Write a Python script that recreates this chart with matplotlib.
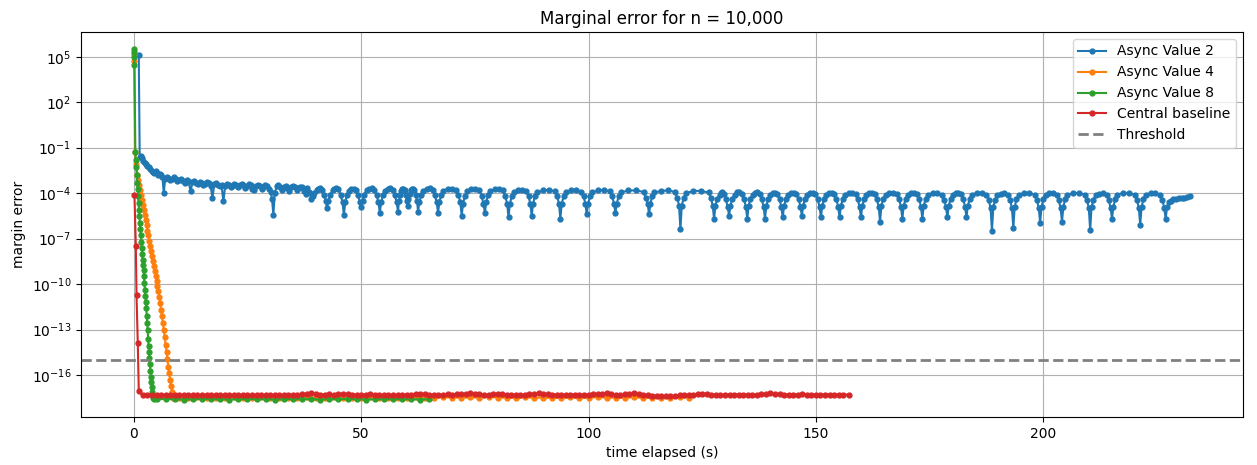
import matplotlib
matplotlib.use("Agg")
import matplotlib.pyplot as plt

# Async Value 2 (slow, oscillating around 1e-4)
t_async2 = [
    1.1, 1.3, 1.5, 1.8, 2.1, 2.4, 2.7, 3.0, 3.3, 3.6,
    3.9, 4.2, 4.5, 4.8, 5.1, 5.4, 5.7, 6.0, 6.3, 6.6,
    6.9, 7.2, 7.6, 8.0, 8.4, 8.8, 9.2, 9.6, 10.0, 10.4,
    10.8, 11.2, 11.6, 12.0, 12.5, 12.9, 13.3, 13.7, 14.1, 14.5,
    14.9, 15.3, 15.7, 16.1, 16.5, 16.9, 17.3, 17.7, 18.1, 18.5,
    18.9, 19.3, 19.7, 20.1, 20.5, 20.9, 21.3, 21.7, 22.1, 22.5,
    22.9, 23.3, 23.7, 24.1, 24.5, 24.9, 25.3, 25.7, 26.1, 26.5,
    26.9, 27.3, 27.7, 28.1, 28.5, 28.9, 29.3, 29.7, 30.1, 30.4,
    30.7, 31.0, 31.4, 31.8, 32.2, 32.6, 33.0, 33.4, 33.8, 34.2,
    34.6, 35.0, 35.4, 35.8, 36.2, 36.6, 37.0, 37.4, 37.8, 38.2,
    38.6,
    39.0, 39.3, 39.7, 40.2, 40.57, 40.93, 41.3, 41.8, 42.2,
    42.5, 42.8, 43.2, 43.7, 44.13, 44.57, 45.0, 45.5, 45.9,
    46.2, 46.5, 46.9, 47.4, 47.87, 48.33, 48.8, 49.3, 49.7,
    50.0, 50.3, 50.7, 51.2, 51.77, 52.33, 52.9, 53.4, 53.8,
    54.1, 54.4, 54.8, 55.3, 55.83, 56.37, 56.9, 57.4, 57.8,
    58.1, 58.3, 58.55, 58.8, 59.05, 59.3, 59.55, 59.8, 60.0,
    60.2, 60.4, 60.65, 60.9, 61.15, 61.4, 61.7, 62.0, 62.3,
    62.5, 62.8, 63.2, 63.7, 64.37, 65.03, 65.7, 66.2, 66.6,
    66.9, 67.2, 67.6, 68.1, 69.03, 69.97, 70.9, 71.4, 71.8,
    72.1, 72.4, 72.8, 73.3, 74.2, 75.1, 76.0, 76.5, 76.9,
    77.2, 77.5, 77.9, 78.4, 79.33, 80.27, 81.2, 81.7, 82.1,
    82.4, 82.7, 83.1, 83.6, 84.5, 85.4, 86.3, 86.8, 87.2,
    87.5, 87.8, 88.2, 88.7, 90.0, 91.3, 92.6, 93.1, 93.5,
    93.8, 94.1, 94.5, 95.0, 96.13, 97.27, 98.4, 98.9, 99.3,
    99.6, 99.9, 100.3, 100.8, 102.1, 103.4, 104.7, 105.2, 105.6,
    105.9, 106.2, 106.6, 107.1, 108.77, 110.43, 112.1, 112.6, 113.0,
    113.3, 113.6, 114.0, 114.5, 116.0, 117.5, 119.0, 119.5, 119.9,
    120.2, 120.5, 120.9, 121.4, 123.07, 124.73, 126.4, 126.9, 127.3,
    127.6, 127.9, 128.3, 128.8, 129.1, 129.4, 129.7, 130.2, 130.6,
    130.9, 131.2, 131.6, 132.1, 132.63, 133.17, 133.7, 134.2, 134.6,
    134.9, 135.2, 135.6, 136.1, 136.6, 137.1, 137.6, 138.1, 138.5,
    138.8, 139.1, 139.5, 140.0, 140.5, 141.0, 141.5, 142.0, 142.4,
    142.7, 143.0, 143.4, 143.9, 144.5, 145.1, 145.7, 146.2, 146.6,
    146.9, 147.2, 147.6, 148.1, 148.7, 149.3, 149.9, 150.4, 150.8,
    151.1, 151.4, 151.8, 152.3, 152.87, 153.43, 154.0, 154.5, 154.9,
    155.2, 155.5, 155.9, 156.4, 157.17, 157.93, 158.7, 159.2, 159.6,
    159.9, 160.2, 160.6, 161.1, 161.7, 162.3, 162.9, 163.4, 163.8,
    164.1, 164.4, 164.8, 165.3, 166.13, 166.97, 167.8, 168.3, 168.7,
    169.0, 169.3, 169.7, 170.2, 170.87, 171.53, 172.2, 172.7, 173.1,
    173.4, 173.7, 174.1, 174.6, 175.63, 176.67, 177.7, 178.2, 178.6,
    178.9, 179.2, 179.6, 180.1, 180.7, 181.3, 181.9, 182.4, 182.8,
    183.1, 183.4, 183.8, 184.3, 185.37, 186.43, 187.5, 188.0, 188.4,
    188.7, 189.0, 189.4, 189.9, 190.67, 191.43, 192.2, 192.7, 193.1,
    193.4, 193.7, 194.1, 194.6, 195.77, 196.93, 198.1, 198.6, 199.0,
    199.3, 199.6, 200.0, 200.5, 201.3, 202.1, 202.9, 203.4, 203.8,
    204.1, 204.4, 204.8, 205.3, 206.57, 207.83, 209.1, 209.6, 210.0,
    210.3, 210.6, 211.0, 211.5, 212.3, 213.1, 213.9, 214.4, 214.8,
    215.1, 215.4, 215.8, 216.3, 217.57, 218.83, 220.1, 220.6, 221.0,
    221.3, 221.6, 222.0, 222.5, 223.57, 224.63, 225.7, 226.2, 226.6,
    226.9, 227.2, 227.6, 228.1, 228.6, 229.2, 229.8, 230.4, 231.0, 231.6, 232.3,
]
err_async2 = [
    1.4e5, 2.5e-2, 3.0e-2, 2.0e-2, 1.4e-2, 1.0e-2, 8.0e-3, 6.0e-3, 5.5e-3, 4.2e-3,
    3.0e-3, 2.6e-3, 2.2e-3, 2.8e-3, 2.2e-3, 1.6e-3, 1.9e-3, 1.5e-3, 1.1e-3, 1.0e-4,
    9.0e-4, 1.2e-3, 1.0e-3, 7.0e-4, 8.5e-4, 1.1e-3, 9.0e-4, 6.5e-4, 7.5e-4, 8.0e-4,
    6.0e-4, 4.5e-4, 7.5e-4, 6.0e-4, 1.3e-4, 5.5e-4, 6.5e-4, 4.5e-4, 3.8e-4, 5.5e-4,
    5.0e-4, 3.5e-4, 4.2e-4, 5.5e-4, 4.5e-4, 3.0e-4, 4.7e-5, 3.8e-4, 4.5e-4, 3.2e-4,
    2.8e-4, 3.5e-4, 2.8e-5, 3.0e-4, 4.2e-4, 3.6e-4, 2.4e-4, 3.0e-4, 4.0e-4, 3.4e-4,
    2.4e-4, 3.2e-4, 4.2e-4, 3.5e-4, 2.2e-4, 2.8e-4, 3.8e-4, 3.2e-4, 2.0e-4, 1.5e-4,
    3.0e-4, 3.6e-4, 2.8e-4, 1.9e-4, 2.6e-4, 3.4e-4, 3.0e-4, 1.8e-4, 1.2e-4, 4.0e-5,
    3.6e-6, 1.0e-4, 2.8e-4, 3.2e-4, 2.4e-4, 1.6e-4, 2.6e-4, 3.0e-4, 2.2e-4, 1.4e-4,
    2.4e-4, 2.9e-4, 2.6e-4, 1.6e-4, 2.2e-4, 2.7e-4, 2.4e-4, 1.3e-4, 9.0e-5, 2.3e-4,
    1.2e-4,
    4e-5, 6e-5, 1.0e-4, 1.6e-4, 2.0e-4, 2.1e-4, 1.7e-4, 8e-5, 3e-5,
    1e-5, 3e-5, 8e-5, 1.5e-4, 2.0e-4, 2.2e-4, 1.8e-4, 7e-5, 2.5e-5,
    3.5e-6, 2.5e-5, 7e-5, 1.4e-4, 1.9e-4, 2.0e-4, 1.6e-4, 7e-5, 2.5e-5,
    1.2e-5, 3e-5, 8e-5, 1.5e-4, 2.0e-4, 2.1e-4, 1.7e-4, 7e-5, 2.5e-5,
    5e-6, 2.5e-5, 7e-5, 1.4e-4, 2.0e-4, 2.2e-4, 1.6e-4, 7e-5, 2.5e-5,
    6e-6, 3e-5, 8e-5, 1.4e-4, 1.8e-4, 1.9e-4, 1.5e-4, 8e-5, 3e-5,
    1.5e-5, 4e-5, 9e-5, 1.5e-4, 1.9e-4, 2.0e-4, 1.6e-4, 8e-5, 3e-5,
    6e-6, 2.5e-5, 7e-5, 1.4e-4, 1.9e-4, 2.1e-4, 1.7e-4, 7e-5, 2.5e-5,
    5e-6, 2.5e-5, 7e-5, 1.4e-4, 2.0e-4, 2.0e-4, 1.6e-4, 7e-5, 2.5e-5,
    3.2e-6, 2e-5, 6e-5, 1.3e-4, 1.9e-4, 2.0e-4, 1.6e-4, 6e-5, 2e-5,
    5e-6, 2.5e-5, 7e-5, 1.3e-4, 1.8e-4, 1.9e-4, 1.5e-4, 6e-5, 2e-5,
    2.5e-6, 2e-5, 6e-5, 1.1e-4, 1.5e-4, 1.6e-4, 1.3e-4, 6e-5, 2e-5,
    3.2e-6, 2e-5, 6e-5, 1.1e-4, 1.5e-4, 1.6e-4, 1.3e-4, 6e-5, 2e-5,
    2e-6, 2e-5, 6e-5, 1.1e-4, 1.5e-4, 1.5e-4, 1.2e-4, 6e-5, 2e-5,
    4e-6, 2e-5, 6e-5, 1.1e-4, 1.5e-4, 1.6e-4, 1.3e-4, 6e-5, 2e-5,
    5e-6, 2e-5, 6e-5, 1.1e-4, 1.5e-4, 1.5e-4, 1.2e-4, 5e-5, 2e-5,
    4e-6, 2e-5, 6e-5, 1.1e-4, 1.4e-4, 1.5e-4, 1.2e-4, 5e-5, 1.5e-5,
    4e-7, 1.5e-5, 5e-5, 1.0e-4, 1.4e-4, 1.4e-4, 1.1e-4, 5e-5, 1.5e-5,
    2e-6, 1.5e-5, 4e-5, 8e-5, 1.05e-4, 1.1e-4, 9e-5, 4e-5, 1.2e-5,
    3.2e-6, 1.5e-5, 4e-5, 8e-5, 1.1e-4, 1.1e-4, 9e-5, 4e-5, 1.2e-5,
    2e-6, 1.5e-5, 4e-5, 8e-5, 1.05e-4, 1.1e-4, 9e-5, 4e-5, 1.2e-5,
    2e-6, 1.5e-5, 4e-5, 8e-5, 1.0e-4, 1.05e-4, 8.5e-5, 4e-5, 1.2e-5,
    2.5e-6, 1.5e-5, 4e-5, 8e-5, 1.0e-4, 1.05e-4, 8.5e-5, 4e-5, 1.2e-5,
    3.2e-6, 1.5e-5, 4e-5, 8e-5, 1.0e-4, 1.05e-4, 8.5e-5, 4e-5, 1.2e-5,
    2.5e-6, 1.5e-5, 4e-5, 8e-5, 1.0e-4, 1.05e-4, 8.5e-5, 4e-5, 1.2e-5,
    2.5e-6, 1.5e-5, 4e-5, 8e-5, 1.0e-4, 1.05e-4, 8.5e-5, 4e-5, 1.2e-5,
    2.5e-6, 1.5e-5, 4e-5, 8e-5, 1.0e-4, 1.05e-4, 8.5e-5, 4e-5, 1.2e-5,
    1.3e-6, 1.5e-5, 4e-5, 8e-5, 1.0e-4, 1.05e-4, 8.5e-5, 4e-5, 1.2e-5,
    2e-6, 1.5e-5, 4e-5, 8e-5, 1.0e-4, 1.05e-4, 8.5e-5, 4e-5, 1.2e-5,
    2e-6, 1.5e-5, 4e-5, 8e-5, 1.0e-4, 1.0e-4, 8e-5, 3.5e-5, 1.2e-5,
    2.5e-6, 1.5e-5, 4e-5, 8e-5, 1.0e-4, 1.05e-4, 8.5e-5, 4e-5, 1.2e-5,
    2.5e-6, 1.5e-5, 4e-5, 8e-5, 1.0e-4, 1.0e-4, 8e-5, 3.5e-5, 1e-5,
    3.2e-7, 1.2e-5, 3.5e-5, 7e-5, 9e-5, 9.5e-5, 8e-5, 3.5e-5, 1e-5,
    5e-7, 1.2e-5, 4e-5, 8e-5, 1.0e-4, 1.0e-4, 8e-5, 3.5e-5, 1e-5,
    1.1e-6, 1.2e-5, 4e-5, 8e-5, 1.0e-4, 1.0e-4, 8e-5, 3.5e-5, 1e-5,
    1.3e-6, 1.2e-5, 4e-5, 8e-5, 1.0e-4, 1.0e-4, 8e-5, 3.5e-5, 1e-5,
    3.5e-7, 1.2e-5, 3.5e-5, 7e-5, 9e-5, 9.5e-5, 8e-5, 3.5e-5, 1e-5,
    2e-6, 1.2e-5, 4e-5, 8e-5, 1.0e-4, 1.0e-4, 8e-5, 3.5e-5, 1e-5,
    8e-7, 1.2e-5, 4e-5, 8e-5, 1.0e-4, 1.0e-4, 8e-5, 3.5e-5, 1e-5,
    2e-6, 1.2e-5, 2.5e-5, 3.2e-5, 4e-5, 4.2e-5, 4.5e-5, 5e-5, 5e-5, 5.5e-5, 6e-5,
]

# Async Value 4
t_async4 = [
    0.0, 0.1, 0.25, 0.5,
    0.8, 1.0, 1.2, 1.4, 1.6, 1.8, 2.0, 2.2, 2.4, 2.6,
    2.8, 3.0, 3.2, 3.4, 3.6, 3.8, 4.0, 4.2, 4.4, 4.6,
    4.8, 5.0, 5.2, 5.4, 5.6, 5.8, 6.0, 6.2, 6.4, 6.6,
    6.8, 7.0, 7.2, 7.4, 7.6, 7.8, 8.0, 8.2, 8.4, 8.55,
    10, 12, 14, 16, 18, 20, 22, 24, 26, 28,
    30, 32, 34, 36, 38, 40, 42, 44, 46, 48,
    50, 52, 54, 56, 58, 60, 62, 64, 66, 68,
    70, 72, 74, 76, 78, 80, 82, 84, 86, 88,
    90, 92, 94, 96, 98, 100, 102, 104, 106, 108,
    110, 112, 114, 116, 118, 120, 122,
]
err_async4 = [
    1.5e5, 5e4, 5e-2, 8e-3,
    1.6e-3, 7.4e-4, 3.4e-4, 1.6e-4, 7.3e-5, 3.4e-5, 1.6e-5, 7.3e-6, 3.4e-6, 1.6e-6,
    7.3e-7, 3.4e-7, 1.6e-7, 7.3e-8, 3.3e-8, 1.5e-8, 7.2e-9, 3.3e-9, 1.5e-9, 7.1e-10,
    3.3e-10, 1.5e-10, 7.1e-11, 3.3e-11, 1.5e-11, 5.6e-12, 2.0e-12, 7.4e-13, 2.8e-13, 1.0e-13,
    3.2e-14, 1.0e-14, 3.4e-15, 1.1e-15, 3.5e-16, 1.3e-16, 5.0e-17, 2.0e-17, 7.9e-18, 3.2e-18,
    3.2e-18, 3.1e-18, 3.3e-18, 3.2e-18, 3.0e-18, 3.2e-18, 3.4e-18, 3.1e-18, 3.2e-18, 3.3e-18,
    3.1e-18, 3.2e-18, 3.0e-18, 3.2e-18, 3.3e-18, 3.1e-18, 3.2e-18, 3.4e-18, 3.2e-18, 3.1e-18,
    3.2e-18, 3.3e-18, 3.1e-18, 3.2e-18, 3.0e-18, 3.2e-18, 3.3e-18, 3.1e-18, 3.2e-18, 3.4e-18,
    3.2e-18, 3.1e-18, 3.3e-18, 3.2e-18, 3.6e-18, 3.2e-18, 3.1e-18, 3.2e-18, 3.3e-18, 3.1e-18,
    3.2e-18, 3.0e-18, 3.2e-18, 3.3e-18, 3.1e-18, 3.2e-18, 3.4e-18, 3.2e-18, 3.1e-18, 3.2e-18,
    3.3e-18, 3.1e-18, 3.2e-18, 3.0e-18, 3.2e-18, 3.3e-18, 3.2e-18,
]

# Async Value 8
t_async8 = [
    0.0, 0.05, 0.1, 0.15,
    0.35, 0.45, 0.55, 0.65, 0.75, 0.85, 0.95, 1.05, 1.15, 1.25,
    1.35, 1.45, 1.55, 1.65, 1.75, 1.85, 1.95, 2.05, 2.15, 2.25,
    2.35, 2.45, 2.55, 2.65, 2.75, 2.85, 2.95, 3.05, 3.15, 3.25,
    3.35, 3.45, 3.55, 3.65, 3.75, 3.85, 3.95, 4.05, 4.15, 4.25, 4.35,
    5, 7, 9, 11, 13, 15, 17, 19, 21, 23,
    25, 27, 29, 31, 33, 35, 37, 39, 41, 43,
    45, 47, 49, 51, 53, 55, 57, 59, 61, 63, 65,
]
err_async8 = [
    3.0e5, 2.0e5, 1.0e5, 3.0e4,
    5.0e-2, 1.6e-2, 5.0e-3, 1.6e-3, 5.0e-4, 2.0e-4, 6.3e-5, 2.2e-5, 7.9e-6, 3.2e-6,
    1.1e-6, 4.0e-7, 1.6e-7, 6.3e-8, 2.5e-8, 1.0e-8, 4.0e-9, 1.8e-9, 7.9e-10, 3.2e-10,
    1.1e-10, 4.0e-11, 1.6e-11, 6.3e-12, 2.5e-12, 7.9e-13, 2.8e-13, 1.0e-13, 2.5e-14, 7.9e-15,
    3.2e-15, 1.3e-15, 5.0e-16, 1.8e-16, 7.9e-17, 3.2e-17, 1.6e-17, 7.9e-18, 5.0e-18, 3.2e-18, 2.5e-18,
    2.5e-18, 2.6e-18, 2.5e-18, 2.4e-18, 2.5e-18, 2.6e-18, 2.5e-18, 2.5e-18, 2.4e-18, 2.5e-18,
    2.6e-18, 2.5e-18, 2.5e-18, 2.4e-18, 2.5e-18, 2.6e-18, 2.5e-18, 2.5e-18, 2.4e-18, 2.5e-18,
    2.5e-18, 2.6e-18, 2.5e-18, 2.4e-18, 2.5e-18, 2.5e-18, 2.6e-18, 2.5e-18, 2.5e-18, 2.4e-18, 2.5e-18,
]

# Central baseline
t_central = [
    0.15, 0.45, 0.6, 0.88, 1.1,
    2, 3, 4, 5, 6, 7, 8, 9, 10, 11,
    12, 13, 14, 15, 16, 17, 18, 19, 20, 21,
    22, 23, 24, 25, 26, 27, 28, 29, 30, 31,
    32, 33, 34, 35, 36, 37, 38, 39, 40, 41,
    42, 43, 44, 45, 46, 47, 48, 49, 50, 51,
    52, 53, 54, 55, 56, 57, 58, 59, 60, 61,
    62, 63, 64, 65, 66, 67, 68, 69, 70, 71,
    72, 73, 74, 75, 76, 77, 78, 79, 80, 81,
    82, 83, 84, 85, 86, 87, 88, 89, 90, 91,
    92, 93, 94, 95, 96, 97, 98, 99, 100, 101,
    102, 103, 104, 105, 106, 107, 108, 109, 110, 111,
    112, 113, 114, 115, 116, 117, 118, 119, 120, 121,
    122, 123, 124, 125, 126, 127, 128, 129, 130, 131,
    132, 133, 134, 135, 136, 137, 138, 139, 140, 141,
    142, 143, 144, 145, 146, 147, 148, 149, 150, 151,
    152, 153, 154, 155, 156, 157.3,
]
err_central = [
    8e-5, 3.2e-8, 2e-11, 1.3e-14, 9e-18,
    4.6e-18, 4.5e-18, 4.7e-18, 4.6e-18, 4.8e-18, 4.7e-18, 4.5e-18, 4.6e-18, 4.8e-18, 4.7e-18,
    4.6e-18, 4.5e-18, 4.7e-18, 4.8e-18, 4.6e-18, 4.7e-18, 4.9e-18, 4.7e-18, 4.6e-18, 4.8e-18,
    4.7e-18, 4.6e-18, 4.8e-18, 4.7e-18, 4.6e-18, 4.8e-18, 4.9e-18, 4.7e-18, 4.6e-18, 4.8e-18,
    4.7e-18, 4.6e-18, 4.8e-18, 4.9e-18, 5.0e-18, 5.2e-18, 5.4e-18, 6.0e-18, 5.5e-18, 5.1e-18,
    5.0e-18, 5.3e-18, 5.1e-18, 5.8e-18, 5.2e-18, 5.6e-18, 5.0e-18, 4.9e-18, 4.8e-18, 5.0e-18,
    5.7e-18, 5.1e-18, 4.8e-18, 4.7e-18, 4.6e-18, 4.8e-18, 4.7e-18, 4.9e-18, 4.8e-18, 5.0e-18,
    5.6e-18, 5.9e-18, 5.2e-18, 4.9e-18, 4.9e-18, 5.0e-18, 5.1e-18, 5.3e-18, 5.1e-18, 5.2e-18,
    5.4e-18, 5.6e-18, 6.0e-18, 5.8e-18, 5.3e-18, 5.1e-18, 5.0e-18, 5.2e-18, 5.9e-18, 5.4e-18,
    5.1e-18, 4.9e-18, 5.0e-18, 4.8e-18, 5.0e-18, 5.2e-18, 5.6e-18, 6.0e-18, 5.6e-18, 5.2e-18,
    4.9e-18, 4.8e-18, 5.0e-18, 4.9e-18, 5.0e-18, 5.1e-18, 5.0e-18, 4.9e-18, 5.1e-18, 5.2e-18,
    5.4e-18, 5.8e-18, 6.1e-18, 5.5e-18, 5.1e-18, 5.0e-18, 5.4e-18, 5.9e-18, 6.0e-18, 5.3e-18,
    4.9e-18, 4.6e-18, 4.4e-18, 4.2e-18, 4.1e-18, 4.0e-18, 4.1e-18, 4.2e-18, 4.5e-18, 4.7e-18,
    4.9e-18, 5.0e-18, 5.2e-18, 5.8e-18, 5.6e-18, 5.1e-18, 5.0e-18, 5.1e-18, 4.9e-18, 5.0e-18,
    5.1e-18, 5.0e-18, 5.1e-18, 5.0e-18, 5.1e-18, 5.0e-18, 5.2e-18, 5.6e-18, 6.0e-18, 5.8e-18,
    5.4e-18, 5.1e-18, 5.0e-18, 5.1e-18, 5.0e-18, 5.2e-18, 5.1e-18, 5.0e-18, 5.1e-18, 5.0e-18,
    5.1e-18, 5.0e-18, 5.1e-18, 5.0e-18, 5.1e-18, 5.0e-18,
]

threshold = 1e-15

fig, ax = plt.subplots(figsize=(12.57, 4.65), dpi=100)
fig.subplots_adjust(left=0.0644, right=0.9889, top=0.9312, bottom=0.1032)

ax.plot(t_async2, err_async2, marker="o", markersize=3.5, label="Async Value 2")
ax.plot(t_async4, err_async4, marker="o", markersize=3.5, label="Async Value 4")
ax.plot(t_async8, err_async8, marker="o", markersize=3.5, label="Async Value 8")
ax.plot(t_central, err_central, marker="o", markersize=3.5, label="Central baseline")
ax.axhline(threshold, color="gray", linestyle="--", linewidth=2, label="Threshold")

ax.set_yscale("log")
ax.set_title("Marginal error for n = 10,000")
ax.set_xlabel("time elapsed (s)")
ax.set_ylabel("margin error")
ax.grid(True)
ax.legend(loc="upper right")

plt.savefig("out.png", dpi=100)
